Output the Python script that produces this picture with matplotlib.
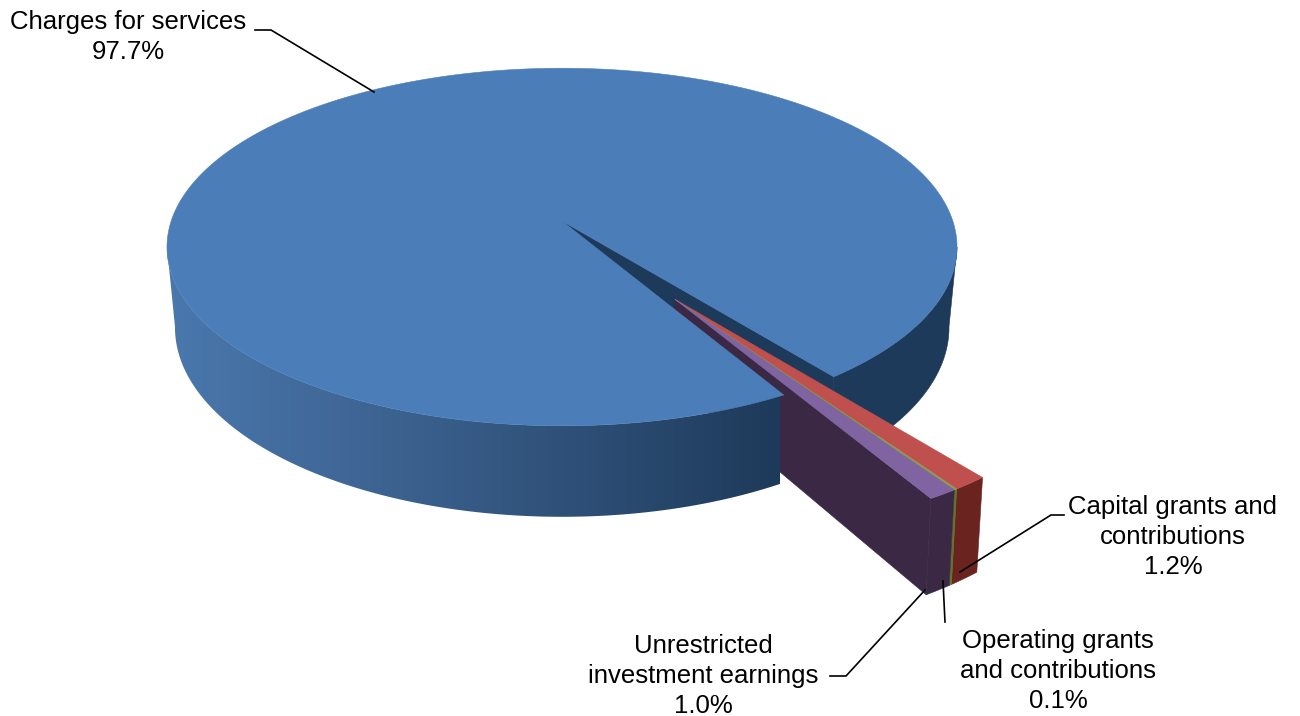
import numpy as np
import matplotlib
matplotlib.use('Agg')
import matplotlib.pyplot as plt
from matplotlib.patches import Polygon
from matplotlib.colors import LinearSegmentedColormap

plt.rcParams['font.family'] = ['Liberation Sans', 'DejaVu Sans']

# slices, clockwise from the first angle
labels = ['Capital grants and\ncontributions', 'Operating grants\nand contributions',
          'Unrestricted\ninvestment earnings', 'Charges for services']
values = [1.2, 0.1, 1.0, 97.7]
top_colors = ['#c0504d', '#8a9e45', '#8064a2', '#4b7db8']
side_colors = ['#6b2320', '#5f7528', '#3a2845', '#1d3a5a']

start_angle = 52.0
explode = 0.5


def proj(X, Y, bottom=False):
    # simple perspective of the disc plane to pixels
    if bottom:
        d = 1 - 0.1506 * Y
        return 562 + 382.6 * X / d, 299 + 185 * Y / d
    d = 1 - 0.1455 * Y
    return 562 + 390.8 * X / d, 221 + 175 * Y / d


def rim(a0, a1, cx=0.0, cy=0.0, bottom=False, n=200):
    t = np.radians(np.linspace(a0, a1, n))
    x, y = proj(cx + np.cos(t), cy + np.sin(t), bottom)
    return np.column_stack([x, y])


def side(a0, a1, cx=0.0, cy=0.0):
    # outer wall between the top and bottom rim
    return np.vstack([rim(a0, a1, cx, cy), rim(a0, a1, cx, cy, True)[::-1]])


def cut(a, cx=0.0, cy=0.0):
    # flat face from centre to rim
    c_top = proj(cx, cy)
    c_bot = proj(cx, cy, True)
    r_top = rim(a, a, cx, cy, n=1)[0]
    r_bot = rim(a, a, cx, cy, True, n=1)[0]
    return np.array([c_top, r_top, r_bot, c_bot])


def add(ax, pts, color, z):
    ax.add_patch(Polygon(pts, closed=True, fc=color, ec=color, lw=0.4, zorder=z))


fig = plt.figure(figsize=(13, 7.16), dpi=100)
ax = fig.add_axes([0, 0, 1, 1])
ax.set_xlim(0, 1300)
ax.set_ylim(716, 0)
ax.axis('off')

edges = start_angle + np.cumsum([0] + values) * 3.6
mid = (edges[0] + edges[3]) / 2 + 1.0
ex = explode * np.cos(np.radians(mid))
ey = explode * np.sin(np.radians(mid))
a_gap0, a_gap1 = edges[0], edges[3]

# back part of the big slice
add(ax, side(8.4, a_gap0), side_colors[3], 1)
add(ax, cut(a_gap0), side_colors[3], 2)

# exploded slices, walls first
for i in range(3):
    add(ax, side(edges[i], edges[i + 1], ex, ey), side_colors[i], 3)
add(ax, cut(a_gap1, ex, ey), side_colors[2], 3)

# front wall with shading
wall = side(a_gap1, 171.6)
wall_cmap = LinearSegmentedColormap.from_list('wall', ['#4a78ad', '#41699a', '#365a85', '#2a4a70', '#1e3a5a'])
im = ax.imshow(np.linspace(0, 1, 256).reshape(1, -1), cmap=wall_cmap, extent=(167, 780, 716, 0),
               aspect='auto', zorder=4)
im.set_clip_path(Polygon(wall, closed=True, transform=ax.transData))
ax.set_xlim(0, 1300)
ax.set_ylim(716, 0)

# top of the big slice
main_top = np.vstack([[proj(0, 0)], rim(a_gap1, a_gap0 + 360, n=500)])
add(ax, main_top, top_colors[3], 5)

# top of exploded slices
for i in range(3):
    pts = np.vstack([[proj(ex, ey)], rim(edges[i], edges[i + 1], ex, ey, n=30)])
    add(ax, pts, top_colors[i], 6)

# leader lines
leaders = [
    ([255, 271, 374], [30, 30, 92]),
    ([1064, 1051, 960], [515, 515, 572]),
    ([943, 945], [581, 622]),
    ([925, 846, 830], [590, 676, 676]),
]
for lx, ly in leaders:
    ax.plot(lx, ly, color='black', lw=1.2, zorder=7, solid_joinstyle='miter')

# labels
label_pos = [(1173, 537), (1058, 671), (703, 676), (128, 37)]
for i, (tx, ty) in enumerate(label_pos):
    ax.text(tx, ty, f'{labels[i]}\n{values[i]:.1f}%', ha='center', va='center', fontsize=18.5,
            color='black', linespacing=1.3, zorder=8)

fig.savefig('out.png', dpi=100)
